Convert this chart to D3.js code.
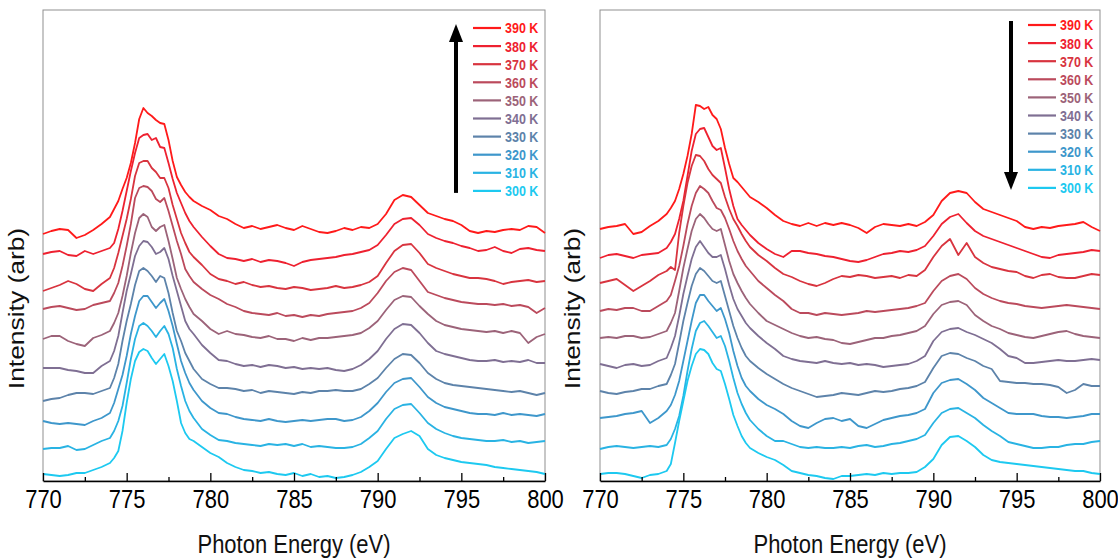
<!DOCTYPE html>
<html>
<head>
<meta charset="utf-8">
<script src="https://cdn.jsdelivr.net/npm/d3@7"></script>
<style>
    body { margin: 0; background: #fff; }
    text { font-family: "Liberation Sans", Arial, sans-serif; }
</style>
</head>
<body>
<svg id="chart" width="1118" height="560"></svg>
<script>
// photon energy grid (eV), finer around the L3 edge
var energy = [770, 770.5, 771, 771.5, 772, 772.5, 773, 773.5, 774,
    774.25, 774.5, 774.75, 775, 775.25, 775.5, 775.75, 776, 776.25, 776.5, 776.75,
    777, 777.25, 777.5, 777.75, 778, 778.25, 778.5, 778.75, 779,
    779.5, 780, 780.5, 781, 781.5, 782, 782.5, 783, 783.5, 784, 784.5, 785, 785.5,
    786, 786.5, 787, 787.5, 788, 788.5, 789, 789.5, 790, 790.5, 791, 791.5, 792,
    792.5, 793, 793.5, 794, 794.5, 795, 795.5, 796, 796.5, 797, 797.5, 798, 798.5,
    799, 799.5, 800];

var temps = ["390 K", "380 K", "370 K", "360 K", "350 K", "340 K", "330 K", "320 K", "310 K", "300 K"];
var colors = ["#ff1a1a", "#ee2130", "#d8343f", "#bb4a5c", "#9c6379", "#7f6f93", "#5d83aa", "#3e97cb", "#29b3e3", "#1dc9f0"];

var xTicks = [770, 775, 780, 785, 790, 795, 800];
var xMinorTicks = [772.5, 777.5, 782.5, 787.5, 792.5, 797.5];

// heating run (left panel), stacked intensity (arb)
var heat390 = [247,250,252,251,243,246,251,257,264,
    272,280,292,303,318,338,362,373,368,365,361,358,357,341,320,304,296,289,284,280,
    275,271,265,262,257,253,255,252,254,256,253,251,255,252,249,248,250,253,251,254,253,257,267,281,286,284,276,268,265,262,260,256,250,248,250,249,251,252,251,255,254,248];
var heat380 = [227,229,230,226,225,230,227,230,233,
    238,252,270,290,310,328,343,346,347,341,343,334,333,318,302,288,278,268,260,254,
    244,235,227,223,222,220,222,219,221,220,218,215,219,221,222,223,224,226,227,229,231,236,246,257,262,263,256,247,243,240,238,235,233,230,231,234,230,228,232,233,231,230];
var heat370 = [190,193,196,200,197,192,190,197,203,
    213,228,245,262,282,305,318,320,320,313,309,303,303,293,276,262,248,238,229,224,
    216,207,202,200,197,199,196,194,195,193,192,194,193,191,192,193,195,193,194,196,199,205,218,230,236,237,228,217,213,210,207,205,203,203,202,200,197,199,200,201,199,200];
var heat360 = [172,174,175,173,171,172,176,178,180,
    188,198,215,235,257,283,293,295,294,290,282,279,283,270,255,240,227,212,205,199,
    192,186,182,177,174,170,168,167,166,168,165,166,164,166,165,167,168,169,170,173,178,188,200,209,213,211,200,189,186,183,181,179,178,177,177,176,177,175,176,174,168,173];
var heat350 = [142,145,145,140,137,135,143,146,150,
    158,168,185,205,228,248,263,267,264,254,250,254,256,240,222,203,192,182,174,167,
    160,152,147,150,147,146,144,143,145,142,142,140,143,141,143,143,144,145,146,148,153,160,171,181,185,184,175,167,160,156,154,152,151,150,149,150,148,150,148,138,144,147];
var heat340 = [113,113,113,111,110,108,108,115,120,
    130,145,168,190,207,225,235,240,239,234,227,229,233,222,205,190,175,160,152,147,
    136,128,121,120,117,115,116,114,116,115,113,114,112,113,112,113,111,110,112,116,122,130,142,152,157,156,148,138,130,127,125,123,121,120,120,121,119,120,119,121,118,118];
var heat330 = [80,82,83,86,88,88,87,90,93,
    103,117,140,160,177,196,210,213,210,205,199,205,203,188,168,150,140,128,120,112,
    102,97,93,93,92,90,91,88,90,89,88,87,89,88,90,90,91,90,90,92,97,103,113,122,127,126,118,108,102,98,96,95,94,93,92,91,90,89,90,88,86,88];
var heat320 = [60,58,57,58,57,56,60,63,68,
    78,92,106,125,147,165,180,185,185,179,173,178,182,170,155,137,120,108,98,91,
    80,73,68,67,64,62,61,60,62,60,59,60,61,60,61,62,62,60,61,64,70,78,89,98,102,103,94,84,78,74,72,70,68,67,67,66,68,66,67,66,65,67];
var heat310 = [32,33,33,35,31,32,36,40,43,
    50,60,75,98,122,142,155,158,155,150,144,150,155,147,133,112,95,80,70,63,
    52,46,41,40,38,37,36,35,37,36,37,35,37,34,35,34,33,33,34,37,43,50,62,72,76,77,68,58,52,48,45,43,42,41,40,40,41,39,40,38,39,40];
var heat300 = [7,6,5,6,8,8,11,14,18,
    23,30,50,78,102,120,129,132,130,123,117,122,127,115,100,80,58,48,42,40,
    34,28,24,18,14,11,10,8,9,7,6,8,5,7,4,5,3,4,6,9,14,20,32,43,47,50,45,32,26,23,21,19,18,17,16,14,13,12,11,10,9,7];

// cooling run (right panel)
var cool390 = [252,254,255,257,247,249,255,260,267,
    273,280,292,307,325,347,376,375,372,374,366,362,352,333,317,303,299,294,289,284,
    279,273,266,260,257,255,258,255,258,256,258,256,253,248,254,257,256,255,257,255,259,266,280,288,290,288,279,272,269,266,263,260,254,252,254,253,255,256,257,259,254,250];
var cool380 = [223,226,227,225,223,226,227,228,233,
    239,247,262,280,305,330,347,352,353,344,335,331,333,313,292,275,262,256,251,246,
    238,232,227,224,230,230,228,227,225,224,222,220,219,221,224,227,228,230,229,231,235,245,257,264,267,258,250,245,242,239,236,233,230,227,224,223,226,227,228,229,231,230];
var cool370 = [198,200,202,196,190,195,200,206,210,
    214,211,248,275,298,315,326,325,320,312,306,302,298,284,272,262,255,247,240,234,
    226,220,213,207,204,200,197,195,198,202,205,204,206,205,203,204,205,203,206,205,211,224,235,242,226,238,224,218,214,212,210,209,205,203,206,207,204,203,203,205,207,206];
var cool360 = [170,172,171,173,173,170,170,175,180,
    186,200,215,235,257,275,288,295,292,288,280,273,271,263,252,240,230,222,215,210,
    200,193,186,180,172,168,168,166,168,167,166,167,168,170,169,170,171,172,173,175,178,190,200,205,207,202,193,187,183,180,178,177,175,174,173,174,175,176,175,174,173,172];
var cool350 = [143,144,143,145,145,143,144,147,150,
    158,168,190,213,232,250,262,267,263,257,252,250,252,236,220,207,198,190,183,177,
    168,160,156,152,148,145,143,144,142,141,138,137,139,141,143,143,145,146,148,150,155,167,176,179,180,176,166,160,155,152,148,146,144,143,145,147,149,150,147,145,144,143];
var cool340 = [117,115,113,116,117,115,116,120,123,
    133,145,165,187,205,222,234,240,234,228,224,224,226,212,196,182,172,165,158,153,
    145,138,132,125,122,120,119,118,120,118,117,118,116,117,116,114,115,116,117,120,125,140,149,152,153,149,146,142,138,132,125,123,118,118,119,120,121,120,120,121,122,121];
var cool330 = [90,88,87,89,90,92,92,95,97,
    106,117,138,160,178,195,207,213,210,205,200,198,200,185,170,155,143,133,125,120,
    113,107,102,97,93,90,87,84,85,86,88,87,86,88,90,89,90,92,93,95,99,113,125,128,127,123,120,115,112,100,99,98,98,97,97,96,94,88,91,97,95,95];
var cool320 = [63,64,65,67,68,70,58,63,70,
    76,86,100,120,140,160,178,186,186,180,175,170,173,162,148,130,115,103,95,90,
    82,76,72,67,60,55,53,58,62,63,60,62,55,53,57,61,63,65,66,68,72,88,98,101,102,97,91,83,78,73,68,67,67,67,65,64,64,63,64,65,67,67];
var cool310 = [32,34,35,34,33,34,35,34,36,
    42,52,65,85,110,132,150,158,160,155,149,143,145,135,120,103,88,77,68,61,
    52,45,40,40,37,34,33,34,33,33,34,33,35,36,34,35,37,38,40,42,46,58,68,72,73,68,63,56,50,45,39,37,35,33,33,34,34,36,37,37,39,40];
var cool300 = [7,8,8,7,5,3,6,7,10,
    17,38,60,80,100,115,127,132,131,127,118,112,110,97,82,66,55,45,38,33,
    28,24,21,16,10,8,6,5,3,2,5,5,6,7,6,8,7,8,8,9,14,22,36,44,45,40,34,26,21,19,18,17,16,15,14,13,12,11,10,10,8,7];

var heatSeries = [heat390, heat380, heat370, heat360, heat350, heat340, heat330, heat320, heat310, heat300];
var coolSeries = [cool390, cool380, cool370, cool360, cool350, cool340, cool330, cool320, cool310, cool300];

// the source figure is a little stretched vertically, so text is too
var textStretch = 1.2;

var svg = d3.select("#chart");

renderPanel(heatSeries, { left: 43, right: 545, top: 10, bottom: 481, labelX: 24 }, "up");
renderPanel(coolSeries, { left: 600, right: 1100, top: 10, bottom: 481, labelX: 580 }, "down");

function renderPanel(series, box, arrowDir) {
    var x = d3.scaleLinear().domain([770, 800]).range([box.left, box.right]);
    var y = d3.scaleLinear().domain([0, 471]).range([box.bottom, box.top]);

    var g = svg.append("g");

    // frame
    g.append("rect")
        .attr("x", box.left)
        .attr("y", box.top)
        .attr("width", box.right - box.left)
        .attr("height", box.bottom - box.top)
        .attr("fill", "none")
        .attr("stroke", "#8f8f8f")
        .attr("stroke-width", 1);

    // spectra
    var lineFn = d3.line()
        .x((d, i) => x(energy[i]))
        .y(d => y(d));

    g.selectAll(".spectrum")
        .data(series).enter()
        .append("path")
        .attr("class", "spectrum")
        .attr("d", d => lineFn(d))
        .style("fill", "none")
        .style("stroke", (d, i) => colors[i])
        .style("stroke-width", 1.8)
        .style("stroke-linejoin", "round");

    // bottom axis, ticks pointing inward
    var gx = g.append("g")
        .attr("transform", "translate(0," + box.bottom + ")")
        .call(d3.axisBottom(x)
            .tickValues(xTicks)
            .tickSize(-8)
            .tickSizeOuter(0)
            .tickPadding(7)
            .tickFormat(d3.format("d")));
    gx.select(".domain").attr("stroke", "#000").attr("stroke-width", 1.5);
    gx.selectAll(".tick line").attr("stroke", "#000").attr("stroke-width", 1.3);
    gx.selectAll(".tick text")
        .attr("fill", "#000")
        .attr("transform", "scale(1," + textStretch + ")")
        .style("font-size", "22px");

    var gxm = g.append("g")
        .attr("transform", "translate(0," + box.bottom + ")")
        .call(d3.axisBottom(x)
            .tickValues(xMinorTicks)
            .tickSize(-4)
            .tickSizeOuter(0)
            .tickFormat(""));
    gxm.select(".domain").remove();
    gxm.selectAll(".tick line").attr("stroke", "#000").attr("stroke-width", 1.3);

    // axis titles
    g.append("text")
        .attr("transform", "translate(" + ((box.left + box.right) / 2) + ",553) scale(1," + textStretch + ")")
        .attr("text-anchor", "middle")
        .attr("fill", "#111")
        .style("font-size", "22px")
        .text("Photon Energy (eV)");

    g.append("text")
        .attr("transform", "translate(" + box.labelX + "," + ((box.top + box.bottom) / 2 + 63) + ") rotate(-90) scale(" + textStretch + ",1)")
        .attr("text-anchor", "middle")
        .attr("fill", "#111")
        .style("font-size", "22px")
        .text("Intensity (arb)");

    // legend
    var legX = box.right - 72;
    var legY = arrowDir === "up" ? 28 : 25;
    var leg = g.selectAll(".legend")
        .data(temps).enter()
        .append("g")
        .attr("class", "legend")
        .attr("transform", (d, i) => "translate(" + legX + "," + (legY + i * 18.1) + ")");
    leg.append("line")
        .attr("x1", 0).attr("x2", 28)
        .attr("stroke", (d, i) => colors[i])
        .attr("stroke-width", 2.2);
    leg.append("text")
        .attr("transform", "translate(32,0) scale(1," + textStretch + ")")
        .attr("dy", "0.36em")
        .attr("fill", (d, i) => colors[i])
        .style("font-size", "12.5px")
        .style("font-weight", "bold")
        .text(d => d);

    // temperature direction arrow
    var ax = legX - 17;
    var yTop = legY - 4, yBot = legY + 9 * 18.1 + 2;
    if (arrowDir === "up") {
        g.append("line").attr("x1", ax).attr("x2", ax)
            .attr("y1", yBot).attr("y2", yTop + 16)
            .attr("stroke", "#000").attr("stroke-width", 4);
        g.append("path")
            .attr("d", "M" + (ax - 7) + "," + (yTop + 18) + "L" + ax + "," + yTop + "L" + (ax + 7) + "," + (yTop + 18) + "Z")
            .attr("fill", "#000");
    } else {
        g.append("line").attr("x1", ax).attr("x2", ax)
            .attr("y1", yTop).attr("y2", yBot - 16)
            .attr("stroke", "#000").attr("stroke-width", 4);
        g.append("path")
            .attr("d", "M" + (ax - 7) + "," + (yBot - 18) + "L" + ax + "," + yBot + "L" + (ax + 7) + "," + (yBot - 18) + "Z")
            .attr("fill", "#000");
    }
}
</script>
</body>
</html>
